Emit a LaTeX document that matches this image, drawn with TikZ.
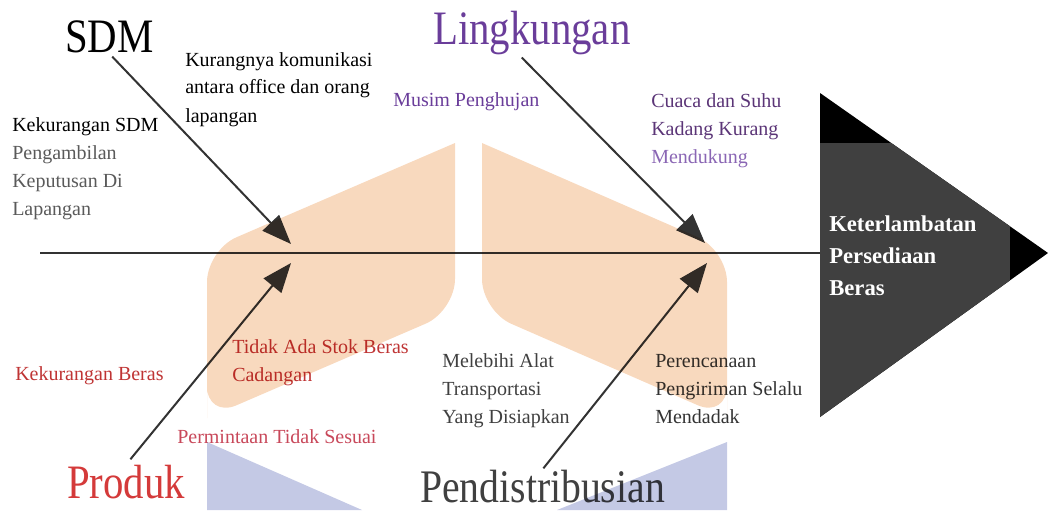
\documentclass[tikz,border=0pt]{standalone}
\usepackage{fontspec}
\setmainfont{Liberation Serif}
\newfontfamily\bigfont{Liberation Serif}[FakeStretch=0.85]
\usetikzlibrary{arrows.meta}

\definecolor{peach}{HTML}{F8D9BE}
\definecolor{lavblue}{HTML}{C4C9E5}
\definecolor{headgrey}{HTML}{404040}
\definecolor{linegrey}{HTML}{333333}
\definecolor{txtgrey}{HTML}{5A5A5A}
\definecolor{envpurple}{HTML}{6A3D9A}
\definecolor{darkpurple}{HTML}{5B3577}
\definecolor{lightpurple}{HTML}{8A66B4}
\definecolor{prodred}{HTML}{D43A3A}
\definecolor{softred}{HTML}{C8485A}

\begin{document}
\begin{tikzpicture}[x=0.75pt,y=-0.75pt,>={Triangle[length=22pt,width=17pt]}]
\tikzstyle{every node}=[inner sep=0pt,anchor=base west,align=left]
\tikzstyle{cause}=[font=\fontsize{15}{21}\selectfont]
\tikzstyle{bone}=[font=\bigfont\fontsize{36}{40}\selectfont]
\tikzstyle{arrow}=[draw=linegrey,fill=linegrey,line width=1.5pt,->]

\useasboundingbox (0,0) rectangle (1048,510);

% head of the fish
\fill (820,93) -- (1048,253) -- (820,417) -- cycle;
\begin{scope}
\clip (820,93) -- (1048,253) -- (820,417) -- cycle;
\fill[headgrey] (820,143) rectangle (1010,420);
\end{scope}
\node[font=\bfseries\fontsize{17}{24}\selectfont,text=white] (head) at (829,295)
  {Keterlambatan\\Persediaan\\Beras};

% spine
\draw[linegrey,line width=1.6pt] (40,253) -- (820,253);

% main bones
\node[bone] (sdm) at (65,53) {SDM};
\node[bone,text=envpurple] (lingk) at (433,45) {Lingkungan};
\node[bone,text=prodred] (produk) at (67,498) {Produk};
\node[bone,text=headgrey,font=\bigfont\fontsize{35}{40}\selectfont] (pend) at (420,502) {Pendistribusian};

\coordinate (t1) at (291,244);
\coordinate (t2) at (291,263);
\coordinate (t3) at (705,243);
\coordinate (t4) at (707,263);

\draw[arrow,shorten <=3pt] (sdm.south) -- (t1);
\draw[arrow,shorten <=2pt] ([xshift=-9pt]lingk.south) -- (t3);
\draw[arrow,shorten <=5pt] (produk.north) -- (t2);
\draw[arrow,shorten <=1pt] (pend.north) -- (t4);

% causes
\node[cause] (c1) at (12,215) {Kekurangan SDM\\\textcolor{txtgrey}{Pengambilan}\\
  \textcolor{txtgrey}{Keputusan Di}\\\textcolor{txtgrey}{Lapangan}};
\node[cause] (c2) at (185,122) {Kurangnya komunikasi\\antara office dan orang\\lapangan};
\node[cause,text=envpurple] (c3) at (393,106) {Musim Penghujan};
\node[cause,text=darkpurple] (c4) at (651,163) {Cuaca dan Suhu\\Kadang Kurang\\
  \textcolor{lightpurple}{Mendukung}};
\node[cause,text=prodred!90!black] (c5) at (15,380) {Kekurangan Beras};
\node[cause,text=prodred!90!black] (c6) at (232,381) {Tidak Ada Stok Beras\\Cadangan};
\node[cause,text=softred] (c7) at (177,443) {Permintaan Tidak Sesuai};
\node[cause,text=headgrey] (c8) at (442,423) {Melebihi Alat\\Transportasi\\Yang Disiapkan};
\node[cause,text=linegrey] (c9) at (655,423) {Perencanaan\\Pengiriman Selalu\\Mendadak};

% watermark
\begin{scope}[blend mode=multiply]
\fill[peach] (455,143) [rounded corners=24pt] -- (455,311) -- (207,418) [sharp corners] -- (207,418)
  [rounded corners=24pt] -- (207,250) [sharp corners] -- cycle;
\fill[peach] (482,143) [rounded corners=24pt] -- (482,311) -- (727,418) [sharp corners] -- (727,418)
  [rounded corners=24pt] -- (727,250) [sharp corners] -- cycle;
\fill[lavblue] (207,442) -- (362,510) -- (207,510) -- cycle;
\fill[lavblue] (727,442) -- (557,510) -- (727,510) -- cycle;
\end{scope}
\end{tikzpicture}
\end{document}
